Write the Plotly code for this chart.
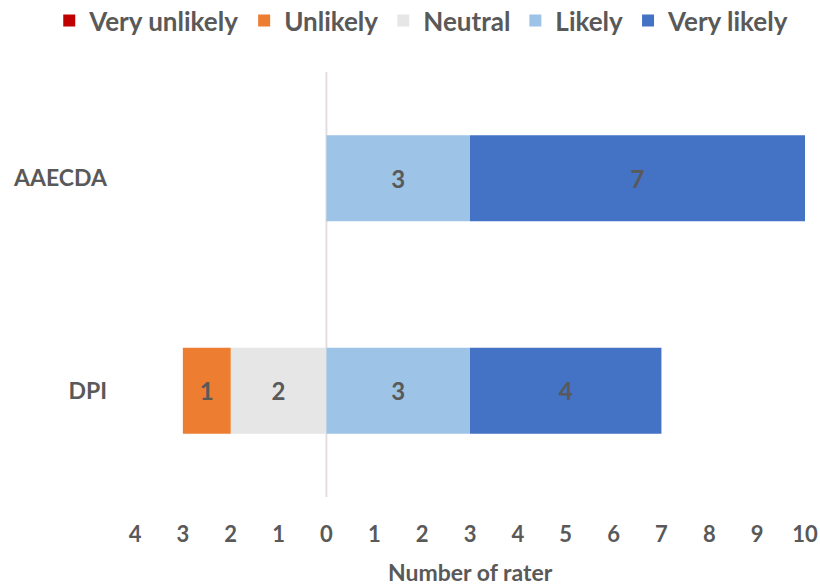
import plotly.graph_objects as go

categories = ["DPI", "AAECDA"]
very_unlikely = [0, 0]
unlikely = [1, 0]
neutral = [2, 0]
likely = [3, 3]
very_likely = [4, 7]

tick_values = list(range(-4, 11))
tick_labels = [str(abs(v)) for v in tick_values]

ypos = {"DPI": 0, "AAECDA": 1}
y = [ypos[c] for c in categories]

FONT = "Lato"
GRAY = "#595959"

series = [
    ("Neutral", neutral, "#E7E6E6", -1, 3),
    ("Unlikely", unlikely, "#ED7D31", -1, 2),
    ("Very unlikely", very_unlikely, "#C00000", -1, 1),
    ("Likely", likely, "#9DC3E6", 1, 4),
    ("Very likely", very_likely, "#4472C4", 1, 5),
]

fig = go.Figure()
for name, vals, color, sign, rank in series:
    fig.add_trace(go.Bar(
        name=name,
        y=y,
        x=[sign * v for v in vals],
        orientation="h",
        marker=dict(color=color, line=dict(width=0)),
        width=0.405,
        text=[str(v) if v else "" for v in vals],
        textposition="inside",
        insidetextanchor="middle",
        textangle=0,
        textfont=dict(family=FONT, size=24, color=GRAY, weight="bold"),
        legendrank=rank,
        hoverinfo="skip",
    ))

fig.add_shape(type="line", x0=0, x1=0, y0=-0.5, y1=1.5, xref="x", yref="y",
              line=dict(color="#E4DEDE", width=2), layer="below")

fig.add_annotation(text="Number of rater", xref="paper", yref="paper",
                   x=0.5, y=-0.176, xanchor="center", yanchor="middle",
                   showarrow=False,
                   font=dict(family=FONT, size=23, color=GRAY, weight="bold"))

fig.update_layout(
    barmode="relative",
    width=820, height=586,
    margin=dict(l=135, r=15, t=72, b=89, autoexpand=False),
    paper_bgcolor="white", plot_bgcolor="white",
    font=dict(family=FONT, color=GRAY, size=20),
    showlegend=True,
    legend=dict(orientation="h", x=-0.128, xref="paper", xanchor="left",
                y=1.176, yref="paper", yanchor="top",
                font=dict(family=FONT, size=26, color=GRAY, weight="bold"),
                itemwidth=30, traceorder="normal"),
    xaxis=dict(range=[-4, 10], tickvals=tick_values, ticktext=tick_labels,
               showgrid=False, zeroline=False, showline=False, ticks="",
               automargin=False,
               tickfont=dict(family=FONT, size=22, color=GRAY, weight="bold"),
               ticklabelstandoff=22),
    yaxis=dict(range=[-0.5, 1.5], tickvals=[0, 1], ticktext=["DPI", "AAECDA"],
               showgrid=False, zeroline=False, showline=False, ticks="",
               automargin=False,
               tickfont=dict(family=FONT, size=23, color=GRAY, weight="bold"),
               ticklabelstandoff=27),
)

fig.write_html("out.html")
